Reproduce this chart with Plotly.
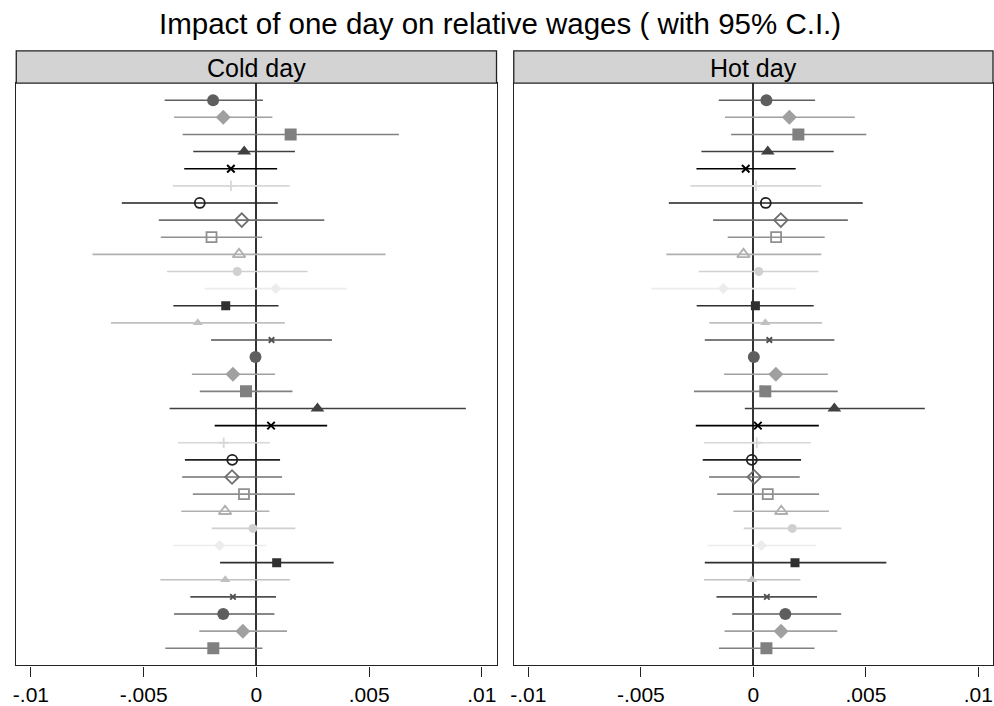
import plotly.graph_objects as go

# ---- data ----
rows = list(range(1, 34))

cold_est = [-0.00192, -0.00147, 0.00152, -0.00054, -0.00113, -0.00113, -0.00251, -0.00065, -0.00199, -0.00077,
            -0.00085, 0.00086, -0.00136, -0.00260, 0.00067, -0.00004, -0.00104, -0.00046, 0.00271, 0.00065,
            -0.00145, -0.00107, -0.00108, -0.00055, -0.00139, -0.00015, -0.00163, 0.00090, -0.00138, -0.00104,
            -0.00147, -0.00060, -0.00191]
cold_lo = [-0.00407, -0.00365, -0.00327, -0.00280, -0.00320, -0.00371, -0.00597, -0.00433, -0.00424, -0.00727,
           -0.00396, -0.00230, -0.00368, -0.00645, -0.00201, -0.00012, -0.00286, -0.00251, -0.00385, -0.00185,
           -0.00348, -0.00317, -0.00329, -0.00282, -0.00333, -0.00198, -0.00368, -0.00161, -0.00426, -0.00293,
           -0.00365, -0.00253, -0.00404]
cold_hi = [0.00029, 0.00071, 0.00632, 0.00171, 0.00092, 0.00148, 0.00095, 0.00301, 0.00026, 0.00573,
           0.00227, 0.00402, 0.00098, 0.00126, 0.00335, 0.00004, 0.00083, 0.00160, 0.00929, 0.00314,
           0.00060, 0.00105, 0.00114, 0.00171, 0.00058, 0.00173, 0.00043, 0.00343, 0.00148, 0.00087,
           0.00080, 0.00136, 0.00027]

hot_est = [0.00058, 0.00160, 0.00200, 0.00064, -0.00034, 0.00012, 0.00055, 0.00122, 0.00101, -0.00044,
           0.00024, -0.00133, 0.00009, 0.00053, 0.00071, 0.00002, 0.00100, 0.00053, 0.00360, 0.00020,
           0.00015, -0.00007, 0.00004, 0.00064, 0.00124, 0.00173, 0.00036, 0.00185, -0.00006, 0.00060,
           0.00142, 0.00123, 0.00058]
hot_lo = [-0.00154, -0.00126, -0.00099, -0.00231, -0.00253, -0.00280, -0.00376, -0.00179, -0.00114, -0.00387,
          -0.00243, -0.00453, -0.00252, -0.00196, -0.00216, -0.00006, -0.00130, -0.00264, -0.00038, -0.00256,
          -0.00220, -0.00225, -0.00197, -0.00161, -0.00089, -0.00043, -0.00204, -0.00216, -0.00219, -0.00164,
          -0.00094, -0.00128, -0.00153]
hot_hi = [0.00274, 0.00451, 0.00502, 0.00357, 0.00188, 0.00302, 0.00486, 0.00420, 0.00317, 0.00302,
          0.00289, 0.00188, 0.00268, 0.00305, 0.00360, 0.00010, 0.00331, 0.00375, 0.00762, 0.00291,
          0.00255, 0.00212, 0.00206, 0.00292, 0.00336, 0.00391, 0.00280, 0.00591, 0.00209, 0.00283,
          0.00390, 0.00373, 0.00272]

panel_titles = ["Cold day", "Hot day"]
tick_vals = [-0.01, -0.005, 0, 0.005, 0.01]
tick_text = ["-.01", "-.005", "0", ".005", ".01"]
chart_title = "Impact of one day on relative wages ( with 95% C.I.)"

# ---- marker styles (Stata mono cycle) ----
styles = [
    dict(symbol="circle", size=12, color="#5e5e5e", lw=0),
    dict(symbol="diamond", size=11.5, color="#a0a0a0", lw=0),
    dict(symbol="square", size=12, color="#808080", lw=0),
    dict(symbol="triangle-up", size=12, color="#404040", lw=0),
    dict(symbol="x-thin", size=7.5, color="#000000", lw=2),
    dict(symbol="cross-thin", size=7.5, color="#d8d8d8", lw=1.8),
    dict(symbol="circle-open", size=10, color="#202020", lw=1.8),
    dict(symbol="diamond-open", size=10.5, color="#707070", lw=1.8),
    dict(symbol="square-open", size=10, color="#909090", lw=1.8),
    dict(symbol="triangle-up-open", size=11, color="#b0b0b0", lw=1.8),
    dict(symbol="circle", size=9, color="#d0d0d0", lw=0),
    dict(symbol="diamond", size=8.5, color="#ececec", lw=0),
    dict(symbol="square", size=9, color="#303030", lw=0),
    dict(symbol="triangle-up", size=9, color="#c0c0c0", lw=0),
    dict(symbol="x-thin", size=5.5, color="#505050", lw=1.9),
]

W, H = 994, 706
FONT = "Liberation Sans, Arial, sans-serif"

fig = go.Figure()

panels = [(cold_est, cold_lo, cold_hi), (hot_est, hot_lo, hot_hi)]
for p, (est, lo, hi) in enumerate(panels):
    xa = "x" if p == 0 else "x2"
    ya = "y" if p == 0 else "y2"
    for s, st in enumerate(styles):
        idx = [i for i in range(len(rows)) if i % len(styles) == s]
        fig.add_trace(go.Scatter(
            x=[est[i] for i in idx],
            y=[rows[i] for i in idx],
            mode="markers",
            xaxis=xa, yaxis=ya,
            showlegend=False,
            marker=dict(symbol=st["symbol"], size=st["size"], color=st["color"],
                        line=dict(width=st["lw"], color=st["color"])),
            error_x=dict(type="data", symmetric=False,
                         array=[hi[i] - est[i] for i in idx],
                         arrayminus=[est[i] - lo[i] for i in idx],
                         width=0, thickness=1.6, color=st["color"]),
        ))

# geometry in pixels -> paper
def px(x):
    return x / W

def py(y):
    return 1 - y / H

dom_x = [[px(13.3), px(495)], [px(512.3), px(993)]]
top_plot, bot_plot, top_head = 83.3, 667.3, 51
dom_y = [py(bot_plot), py(top_plot)]

axis_common = dict(showgrid=False, showline=True, mirror=True, linecolor="#222222", linewidth=1.3)
xr = [-0.01065, 0.01065]
layout = dict(
    width=W, height=H,
    margin=dict(l=0, r=0, t=0, b=0),
    paper_bgcolor="white", plot_bgcolor="white",
    font=dict(family=FONT, color="#000000"),
)
for p in range(2):
    xkey = "xaxis" if p == 0 else "xaxis2"
    ykey = "yaxis" if p == 0 else "yaxis2"
    layout[xkey] = dict(axis_common, domain=dom_x[p], range=xr, tickvals=tick_vals, ticktext=tick_text,
                        ticks="outside", ticklen=10, tickwidth=1.3, tickcolor="#222222",
                        tickfont=dict(size=21, family=FONT, color="#000000"),
                        zeroline=True, zerolinecolor="#333333", zerolinewidth=1.8,
                        anchor="y" if p == 0 else "y2")
    layout[ykey] = dict(axis_common, domain=dom_y, range=[34, 0], showticklabels=False, ticks="",
                        zeroline=False, anchor="x" if p == 0 else "x2")

shapes = []
annotations = []
for p in range(2):
    shapes.append(dict(type="rect", xref="paper", yref="paper",
                       x0=dom_x[p][0], x1=dom_x[p][1], y0=py(top_plot), y1=py(top_head),
                       fillcolor="#d3d3d3", line=dict(color="#222222", width=1.3), layer="above"))
    annotations.append(dict(text=panel_titles[p], xref="paper", yref="paper",
                            x=(dom_x[p][0] + dom_x[p][1]) / 2, y=py((top_plot + top_head) / 2 + 1),
                            xanchor="center", yanchor="middle", showarrow=False,
                            font=dict(size=25, family=FONT, color="#000000")))
annotations.append(dict(text=chart_title, xref="paper", yref="paper", x=px(499), y=py(24),
                        xanchor="center", yanchor="middle", showarrow=False,
                        font=dict(size=29.5, family=FONT, color="#000000")))
layout["shapes"] = shapes
layout["annotations"] = annotations
fig.update_layout(**layout)

fig.write_html("out.html")
